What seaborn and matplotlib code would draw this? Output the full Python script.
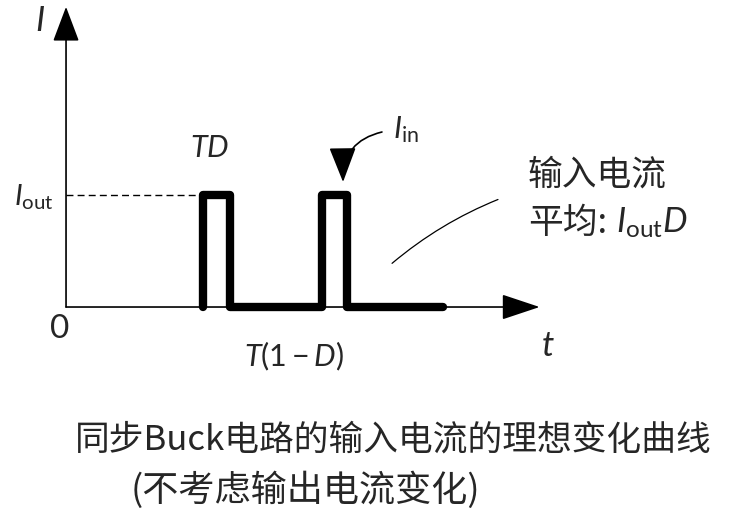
"""Ideal input current of a synchronous Buck converter, drawn with seaborn."""
import matplotlib
matplotlib.use('Agg')
import matplotlib.pyplot as plt
from matplotlib.patches import FancyArrowPatch
import pandas as pd
import seaborn as sns

# waveform: time in units of the period T, current in units of I_out
t_values = [1.15, 1.15, 1.38, 1.38, 2.15, 2.15, 2.36, 2.36, 3.17]
i_values = [0, 1, 1, 0, 0, 1, 1, 0, 0]
i_out = 1.0
t_axis_end = 3.98
i_axis_end = 2.68

sns.set_style('white')
plt.rcParams['font.family'] = ['Lato', 'Noto Sans CJK SC', 'DejaVu Sans']
plt.rcParams['mathtext.fontset'] = 'custom'
plt.rcParams['mathtext.it'] = 'Lato:italic'
plt.rcParams['mathtext.rm'] = 'Lato'
cjk = ['Noto Sans CJK SC', 'DejaVu Sans']

fig = plt.figure(figsize=(7.52, 5.13), dpi=100)
ax = fig.add_axes([0, 0, 1, 1])
ax.set_xlim(-0.555, 5.765)
ax.set_ylim(-1.839, 2.741)
ax.axis('off')


def arrow(start, end, **kw):
    """Add an arrow patch between two data points."""
    opts = dict(mutation_scale=10, color='black', lw=1.2, shrinkA=0, shrinkB=0)
    opts.update(kw)
    ax.add_patch(FancyArrowPatch(start, end, **opts))


# axes with arrow heads
arrow((0, 0), (t_axis_end, 0), arrowstyle='-|>,head_length=2.4,head_width=0.8')
arrow((0, 0), (0, i_axis_end), arrowstyle='-|>,head_length=2.2,head_width=0.83')

# dashed I_out level
ax.plot([0, t_values[1]], [i_out, i_out], color='black', lw=1, ls=(0, (5, 3)))

# the pulse train
wave = pd.DataFrame({'t': t_values, 'I': i_values})
sns.lineplot(data=wave, x='t', y='I', ax=ax, sort=False, estimator=None,
             color='black', lw=6, solid_joinstyle='round', solid_capstyle='round')

# labels
ax.text(-0.22, 2.55, '$I$', fontsize=25, ha='center', va='center')
ax.text(-0.1, i_out - 0.02, r'$I_{\mathrm{out}}$', fontsize=21, ha='right', va='center')
ax.text(-0.05, -0.2, '0', fontsize=24, ha='center', va='center')
ax.text(4.05, -0.35, '$t$', fontsize=25, ha='center', va='center')
ax.text(1.21, 1.42, '$TD$', fontsize=22, ha='center', va='center')
ax.text(1.92, -0.44, '$T(1-D)$', fontsize=22, ha='center', va='center')
ax.text(2.75, 1.58, r'$I_{\mathrm{in}}$', fontsize=22, ha='left', va='center')

# curved pointer to the second pulse
arrow((2.655, 1.5625), (2.328, 1.116), connectionstyle='arc3,rad=0.4',
      arrowstyle='-|>,head_length=2.2,head_width=0.85')

# average annotation
arrow((2.74, 0.39), (3.63, 0.96), connectionstyle='arc3,rad=-0.08',
      arrowstyle='-', lw=0.9)
ax.text(3.88, 1.18, '输入电流', fontsize=25, ha='left', va='center', family=cjk)
ax.text(3.88, 0.75, '平均:', fontsize=25, ha='left', va='center', family=cjk)
ax.text(4.62, 0.75, r'$I_{\mathrm{out}}D$', fontsize=25, ha='left', va='center')

# caption
ax.text(0.076, -1.19, '同步Buck电路的输入电流的理想变化曲线', fontsize=25,
        ha='left', va='center', family=cjk)
ax.text(0.54, -1.64, '(不考虑输出电流变化)', fontsize=26, ha='left', va='center',
        family=cjk)

fig.savefig('out.png', dpi=100)
